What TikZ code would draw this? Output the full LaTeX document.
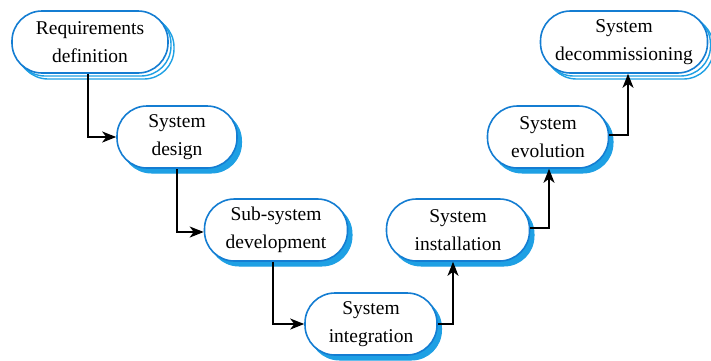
\documentclass[tikz,border=0pt]{standalone}
\usepackage{fontspec}
\setmainfont{Liberation Serif}
\usetikzlibrary{arrows.meta,shadows}
\definecolor{edgeblue}{RGB}{20,125,210}
\definecolor{shadeblue}{RGB}{30,160,228}
\tikzset{
  stage/.style={draw=edgeblue, line width=1.6pt, fill=white,
    rounded corners=30pt, minimum height=62pt, inner sep=0pt,
    align=center, font=\fontsize{19.5}{28.5}\selectfont,
    copy shadow={shadow xshift=4.5pt, shadow yshift=-5pt,
      fill=shadeblue, draw=shadeblue, line width=1pt}},
  wide stage/.style={stage,
    double copy shadow={shadow xshift=3pt, shadow yshift=-3pt,
      fill=white, draw=shadeblue, line width=1.4pt}},
  flow/.style={draw=black, line width=2pt,
    -{Stealth[length=14pt,width=11pt,inset=4pt]}}
}
\begin{document}
\begin{tikzpicture}[x=1pt,y=-1pt]
\useasboundingbox (0,0) rectangle (711,360);
% descending branch
\node[wide stage, minimum width=156pt] (req) at (90,42) {Requirements\\definition};
\node[stage, minimum width=120pt] (des) at (177,137) {System\\design};
\node[stage, minimum width=143pt] (dev) at (276,230) {Sub-system\\development};
\node[stage, minimum width=132pt] (int) at (371,324) {System\\integration};
% ascending branch
\node[stage, minimum width=143pt] (ins) at (458,230) {System\\installation};
\node[stage, minimum width=121pt] (evo) at (548,137) {System\\evolution};
\node[wide stage, minimum width=167pt] (dec) at (624,42) {System\\decommissioning};
% connectors
\draw[flow] ([xshift=-2pt]req.south) |- (des.west);
\draw[flow] (des.south) |- ([yshift=-2pt]dev.west);
\draw[flow] ([xshift=-3pt]dev.south) |- (int.west);
\draw[flow] (int.east) -| ([xshift=-5pt]ins.south);
\draw[flow] ([yshift=2pt]ins.east) -| ([xshift=1pt]evo.south);
\draw[flow] ([yshift=2pt]evo.east) -| ([xshift=4pt]dec.south);
\end{tikzpicture}
\end{document}
